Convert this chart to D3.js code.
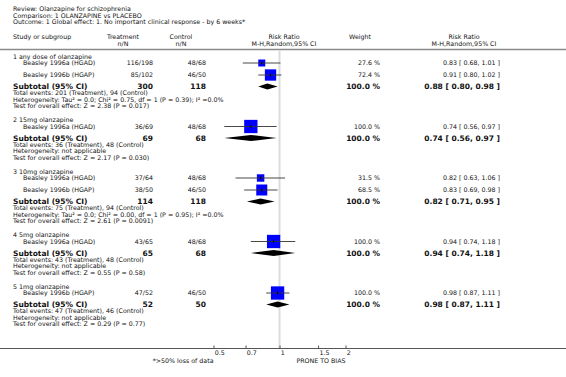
<!DOCTYPE html>
<html><head><meta charset="utf-8">
<script src="https://cdn.jsdelivr.net/npm/d3@7"></script>
<style>
html,body{margin:0;padding:0;background:#fff;}
svg text{font-family:"DejaVu Sans",sans-serif;fill:#111;}
</style></head>
<body><svg id="c" width="566" height="377"></svg>
<script>
// ---- data ----
const headerLines = ["Review:  Olanzapine for schizophrenia","Comparison:  1 OLANZAPINE vs PLACEBO","Outcome:  1 Global effect: 1. No important clinical response - by 6 weeks*"];
const groupTitles = ["1 any dose of olanzapine","2 15mg olanzapine","3 10mg olanzapine","4 5mg olanzapine","5 1mg olanzapine"];
const studyGroup = [0,0,1,2,2,3,4];
const studyNames = ["Beasley 1996a (HGAD)","Beasley 1996b (HGAP)","Beasley 1996a (HGAD)","Beasley 1996a (HGAD)","Beasley 1996b (HGAP)","Beasley 1996a (HGAD)","Beasley 1996b (HGAP)"];
const studyTreat = ["116/198","85/102","36/69","37/64","38/50","43/65","47/52"];
const studyCtrl = ["48/68","46/50","48/68","48/68","46/50","48/68","46/50"];
const studyRR = [0.83,0.91,0.74,0.82,0.83,0.94,0.98];
const studyLo = [0.68,0.80,0.56,0.63,0.69,0.74,0.87];
const studyHi = [1.01,1.02,0.97,1.06,0.98,1.18,1.11];
const studyWeight = [27.6,72.4,100.0,31.5,68.5,100.0,100.0];
const subTreatN = [300,69,114,65,52];
const subCtrlN = [118,68,118,68,50];
const subRR = [0.88,0.74,0.82,0.94,0.98];
const subLo = [0.80,0.56,0.71,0.74,0.87];
const subHi = [0.98,0.97,0.95,1.18,1.11];
const totalEvents = ["Total events: 201 (Treatment), 94 (Control)","Total events: 36 (Treatment), 48 (Control)","Total events: 75 (Treatment), 94 (Control)","Total events: 43 (Treatment), 48 (Control)","Total events: 47 (Treatment), 46 (Control)"];
const heterogeneity = ["Heterogeneity: Tau\u00b2 = 0.0; Chi\u00b2 = 0.75, df = 1 (P = 0.39); I\u00b2 =0.0%","Heterogeneity: not applicable","Heterogeneity: Tau\u00b2 = 0.0; Chi\u00b2 = 0.00, df = 1 (P = 0.95); I\u00b2 =0.0%","Heterogeneity: not applicable","Heterogeneity: not applicable"];
const overallTests = ["Test for overall effect: Z = 2.38 (P = 0.017)","Test for overall effect: Z = 2.17 (P = 0.030)","Test for overall effect: Z = 2.61 (P = 0.0091)","Test for overall effect: Z = 0.55 (P = 0.58)","Test for overall effect: Z = 0.29 (P = 0.77)"];
const tickValues = [0.5,0.7,1,1.5,2];
const tickLabels = ["0.5","0.7","1","1.5","2"];
const leftAxisLabel = "*>50% loss of data";
const rightAxisLabel = "PRONE TO BIAS";

// ---- layout ----
const svg = d3.select("#c");
const W = 566;
const fs = 6.3, fsB = 7.5;
const xLeft = 13, xStudy = 23, xTreat = 153, xCtrl = 206, xWeight = 380, xCI = 500;
const x = d3.scaleLog().domain([0.5,2]).range([213.5,345.5]);
const axisY = 348.5;
const fmt = d3.format(".2f");
const ciText = (r,l,h) => `${fmt(r)} [ ${fmt(l)}, ${fmt(h)} ]`;

function txt(xp, yp, s, opt={}) {
  return svg.append("text").attr("x", xp).attr("y", yp).attr("dy","0.36em")
    .attr("font-size", opt.size || fs)
    .attr("font-weight", opt.bold ? "bold" : null)
    .attr("text-anchor", opt.anchor || "start")
    .text(s);
}

// header
headerLines.forEach((s,i)=>txt(xLeft, 9 + i*6.6, s));
txt(xLeft, 37, "Study or subgroup");
txt(123, 37, "Treatment", {anchor:"middle"}); txt(123, 43.5, "n/N", {anchor:"middle"});
txt(181, 37, "Control", {anchor:"middle"}); txt(181, 43.5, "n/N", {anchor:"middle"});
txt(284, 37, "Risk Ratio", {anchor:"middle"}); txt(284, 43.5, "M-H,Random,95% CI", {anchor:"middle"});
txt(360, 37, "Weight", {anchor:"middle"});
txt(464, 37, "Risk Ratio", {anchor:"middle"}); txt(464, 43.5, "M-H,Random,95% CI", {anchor:"middle"});
svg.append("line").attr("x1",0).attr("x2",W).attr("y1",49.5).attr("y2",49.5).attr("stroke","#8a8a8a").attr("stroke-width",1.6);

// reference line at 1
const gRef = svg.append("g");

// compute rows
let y = 56.5;
const studyY = [], subY = [];
groupTitles.forEach((t,g)=>{
  const titleY = y;
  txt(xLeft, titleY, t);
  y += 6.5;
  studyGroup.forEach((sg,i)=>{ if(sg===g){ studyY[i]=y; y+=12; } });
  y -= 0.5;
  subY[g] = y;
  y += 6.5; const totY = y; y += 6.5; const hetY = y; y += 6.5; const testY = y;
  txt(xLeft, subY[g], "Subtotal (95% CI)", {bold:true, size:fsB});
  txt(xTreat, subY[g], subTreatN[g], {bold:true, size:fsB, anchor:"end"});
  txt(xCtrl, subY[g], subCtrlN[g], {bold:true, size:fsB, anchor:"end"});
  txt(xWeight, subY[g], "100.0 %", {bold:true, size:fsB, anchor:"end"});
  txt(xCI, subY[g], ciText(subRR[g],subLo[g],subHi[g]), {bold:true, size:fsB, anchor:"end"});
  txt(xLeft, totY, totalEvents[g]);
  txt(xLeft, hetY, heterogeneity[g]);
  txt(xLeft, testY, overallTests[g]);
  y += 14;
});

gRef.append("line").attr("x1",x(1)).attr("x2",x(1)).attr("y1",51).attr("y2",axisY)
  .attr("stroke","#dcdcdc").attr("stroke-width",2);

// studies
const maxSide = 13.3;
studyNames.forEach((n,i)=>{
  const yy = studyY[i];
  txt(xStudy, yy, n);
  txt(xTreat, yy, studyTreat[i], {anchor:"end"});
  txt(xCtrl, yy, studyCtrl[i], {anchor:"end"});
  txt(xWeight, yy, d3.format(".1f")(studyWeight[i]) + " %", {anchor:"end"});
  txt(xCI, yy, ciText(studyRR[i],studyLo[i],studyHi[i]), {anchor:"end"});
  const side = maxSide*Math.sqrt(studyWeight[i]/100);
  svg.append("rect").attr("x", x(studyRR[i])-side/2).attr("y", yy-side/2)
    .attr("width", side).attr("height", side).attr("fill","#0000ff");
  svg.append("line").attr("x1", x(studyLo[i])).attr("x2", x(studyHi[i]))
    .attr("y1", yy).attr("y2", yy).attr("stroke","#333").attr("stroke-width",0.9);
  svg.append("line").attr("x1", x(studyRR[i])).attr("x2", x(studyRR[i]))
    .attr("y1", yy-1.5).attr("y2", yy+1.5).attr("stroke","#000").attr("stroke-width",0.9);
});

// diamonds
subRR.forEach((r,g)=>{
  const yy = subY[g], h = 3;
  svg.append("path").attr("d", `M${x(subLo[g])},${yy}L${x(r)},${yy-h}L${x(subHi[g])},${yy}L${x(r)},${yy+h}Z`)
    .attr("fill","#000");
});

// axis
svg.append("line").attr("x1",0).attr("x2",W).attr("y1",axisY).attr("y2",axisY)
  .attr("stroke","#555").attr("stroke-width",1.2);
const ax = d3.axisBottom(x).tickValues(tickValues).tickFormat((d,i)=>tickLabels[i]).tickSize(-3).tickPadding(2);
const gAx = svg.append("g").attr("transform",`translate(0,${axisY})`).call(ax);
gAx.select(".domain").remove();
gAx.selectAll(".tick line").attr("stroke","#555");
gAx.selectAll(".tick text").attr("font-size",fs).attr("font-family","DejaVu Sans").attr("text-anchor","start").attr("x",0.8).attr("fill","#111");
txt(x(0.5), 361, leftAxisLabel, {anchor:"end"});
txt(x(2), 361, rightAxisLabel, {anchor:"end"});
</script></body></html>
